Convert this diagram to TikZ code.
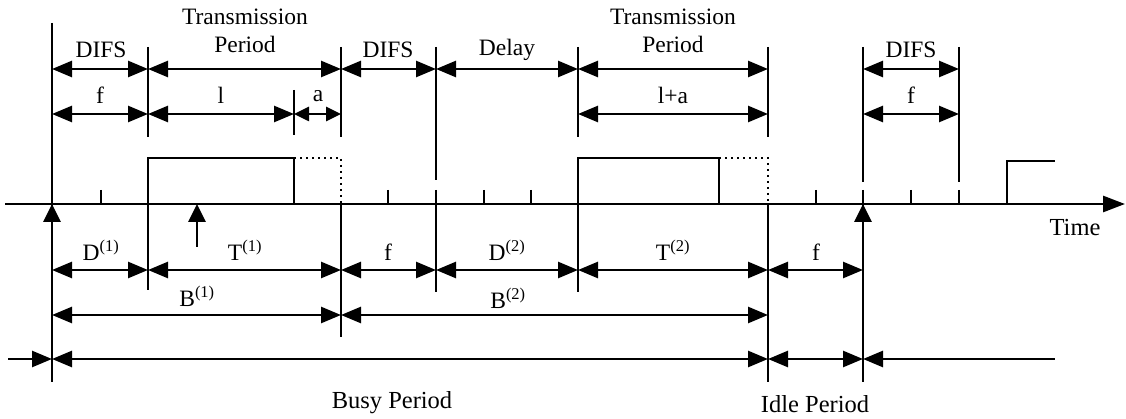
\documentclass[tikz,border=0pt]{standalone}
\usepackage{fontspec}
\setmainfont{Liberation Serif}
\usetikzlibrary{arrows.meta}
\tikzset{
  ln/.style={line width=2.8pt},
  dotln/.style={line width=2.2pt, dash pattern=on 2pt off 4pt},
  tip/.tip={Triangle[length=20pt,width=16pt]},
  dim/.style={line width=2.6pt, tip-tip},
  dimr/.style={line width=2.6pt, -tip},
  diml/.style={line width=2.6pt, tip-},
  upar/.style={line width=2.8pt, -{Triangle[length=18pt,width=17pt]}},
  lbl/.style={inner sep=0pt, font=\fontsize{23.5}{28}\selectfont},
  big/.style={inner sep=0pt, font=\fontsize{24.5}{28}\selectfont},
}
\begin{document}
\begin{tikzpicture}[x=1pt,y=-1pt]
\useasboundingbox (0,0) rectangle (1126,419);
% row coordinates
\foreach \x in {52,148,294,341,436,578,768,863,959}{
  \coordinate (A\x) at (\x,69);
  \coordinate (B\x) at (\x,114);
}
\foreach \x in {8,52,148,341,436,578,768,863,1055}{
  \coordinate (C\x) at (\x,270);
  \coordinate (D\x) at (\x,315);
  \coordinate (E\x) at (\x,359);
}
% time axis
\coordinate (ax0) at (5,204);
\coordinate (ax1) at (1125,204);
\draw[ln,-{Triangle[length=22pt,width=16pt]}] (ax0) -- (ax1);
% vertical boundary lines
\draw[ln] (52,23) -- (52,382);
\draw[ln] (148,47) -- (148,137);
\draw[ln] (148,204) -- (148,290);
\draw[ln] (294,90) -- (294,135);
\draw[ln] (341,47) -- (341,137);
\draw[ln] (341,204) -- (341,337);
\draw[ln] (436,47) -- (436,180);
\draw[ln] (436,190) -- (436,292);
\draw[ln] (578,47) -- (578,137);
\draw[ln] (578,204) -- (578,292);
\draw[ln] (768,47) -- (768,137);
\draw[ln] (768,204) -- (768,382);
\draw[ln] (863,47) -- (863,182);
\draw[ln] (863,190) -- (863,382);
\draw[ln] (959,47) -- (959,182);
\draw[ln] (959,190) -- (959,204);
% ticks
\foreach \x in {101,388,484,531,816,911}{
  \draw[ln] (\x,190) -- (\x,204);
}
% up arrows
\coordinate (u1a) at (52,240); \coordinate (u1b) at (52,204);
\coordinate (u2a) at (197,247); \coordinate (u2b) at (197,204);
\coordinate (u3a) at (863,240); \coordinate (u3b) at (863,204);
\draw[upar] (u1a) -- (u1b);
\draw[upar] (u2a) -- (u2b);
\draw[upar] (u3a) -- (u3b);
% transmission boxes
\draw[ln] (148,204) -- (148,158) -- (294,158) -- (294,204);
\draw[dotln] (294,158) -- (341,158) -- (341,204);
\draw[ln] (578,204) -- (578,158) -- (719,158) -- (719,204);
\draw[dotln] (719,158) -- (768,158) -- (768,204);
\draw[ln] (1007,204) -- (1007,161) -- (1055,161);
% row A
\draw[dim] (A52) -- (A148);
\draw[dim] (A148) -- (A341);
\draw[dim] (A341) -- (A436);
\draw[dim] (A436) -- (A578);
\draw[dim] (A578) -- (A768);
\draw[dim] (A863) -- (A959);
% row B
\draw[dim] (B52) -- (B148);
\draw[dim] (B148) -- (B294);
\draw[line width=2.6pt, {Triangle[length=15pt,width=14pt]}-{Triangle[length=15pt,width=14pt]}] (B294) -- (B341);
\draw[dim] (B578) -- (B768);
\draw[dim] (B863) -- (B959);
% row C
\draw[dim] (C52) -- (C148);
\draw[dim] (C148) -- (C341);
\draw[dim] (C341) -- (C436);
\draw[dim] (C436) -- (C578);
\draw[dim] (C578) -- (C768);
\draw[dim] (C768) -- (C863);
% row D
\draw[dim] (D52) -- (D341);
\draw[dim] (D341) -- (D768);
% row E
\draw[dimr] (E8) -- (E52);
\draw[dim] (E52) -- (E768);
\draw[dim] (E768) -- (E863);
\draw[diml] (E863) -- (E1055);
% labels above
\node[lbl, align=center] (tp1) at (245,31) {Transmission\\Period};
\node[lbl, align=center] (tp2) at (673,31) {Transmission\\Period};
\node[lbl] (difs1) at (101,50) {DIFS};
\node[lbl] (difs2) at (388,50) {DIFS};
\node[lbl] (difs3) at (911,50) {DIFS};
\node[lbl] (delay) at (507,50) {Delay};
\node[lbl] (f1) at (100,95) {f};
\node[lbl] (l1) at (221,95) {l};
\node[lbl] (a1) at (318,96) {a};
\node[lbl] (la) at (673,95) {l+a};
\node[lbl] (f2) at (911,95) {f};
% labels below
\node[lbl] (d1) at (101,250) {D\textsuperscript{(1)}};
\node[lbl] (t1) at (245,250) {T\textsuperscript{(1)}};
\node[lbl] (f3) at (388,252) {f};
\node[lbl] (d2) at (507,250) {D\textsuperscript{(2)}};
\node[lbl] (t2) at (673,250) {T\textsuperscript{(2)}};
\node[lbl] (f4) at (816,252) {f};
\node[lbl] (b1) at (197,296) {B\textsuperscript{(1)}};
\node[lbl] (b2) at (508,298) {B\textsuperscript{(2)}};
\node[big] (time) at (1075,228) {Time};
\node[big] (busy) at (392,403) {Busy Period};
\node[big] (idle) at (815,404) {Idle Period};
\end{tikzpicture}
\end{document}
